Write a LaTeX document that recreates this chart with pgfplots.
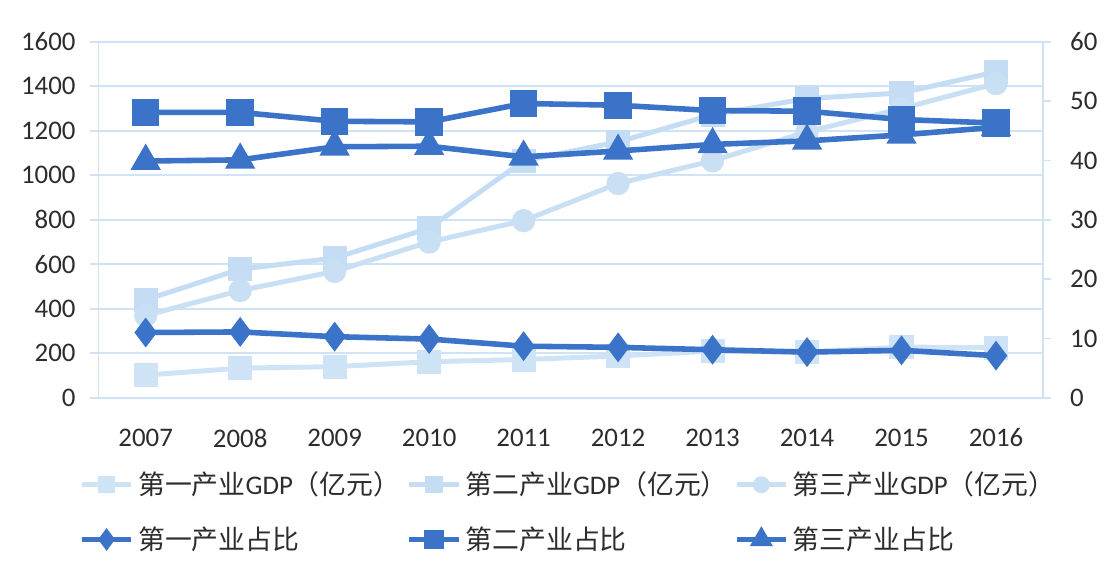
\documentclass[border=0pt]{standalone}
\usepackage{pgfplots}
\pgfplotsset{compat=1.18}
\usepackage{pgfplotstable}
\usepackage{fontspec}
\setmainfont{Carlito}
\newfontfamily\cjk{Noto Sans CJK SC}
\definecolor{dark}{RGB}{59,115,200}
\definecolor{lA}{RGB}{206,227,246}
\definecolor{lB}{RGB}{196,221,245}
\definecolor{lC}{RGB}{200,223,244}
\definecolor{gridc}{RGB}{208,227,246}
\definecolor{tickc}{RGB}{45,45,45}

\pgfplotstableread{
x gdpA gdpB gdpC
0 102 440 370
1 133 578 482
2 140 628 568
3 162 762 700
4 172 1065 796
5 188 1150 963
6 210 1272 1065
7 205 1345 1195
8 228 1370 1300
9 225 1465 1412
}\gdp

\pgfplotstableread{
x sA sB sC
0 11.0 48.1 39.9
1 11.1 48.1 40.1
2 10.3 46.6 42.3
3 9.9 46.5 42.4
4 8.7 49.6 40.6
5 8.5 49.3 41.6
6 8.1 48.4 42.7
7 7.7 48.3 43.3
8 8.0 46.9 44.3
9 7.1 46.3 45.6
}\share

\pgfplotsset{
  common/.style={
    width=475pt, height=179pt, scale only axis,
    xmin=-0.5, xmax=9.5,
    ymin=0,
    ticklabel style={font=\fontsize{13.5}{15}\selectfont, text=tickc},
    /pgf/number format/assume math mode=true,
    /pgf/number format/1000 sep={},
    axis line style={draw=gridc, line width=0.8pt},
    tick style={draw=gridc, line width=0.8pt},
    major tick length=4pt,
    tick align=outside,
    legend image code/.code={\draw[mark repeat=2,mark phase=2,mark options={scale=0.65}] plot coordinates {(0pt,0pt) (12.5pt,0pt) (25pt,0pt)};},
  },
  gA/.style={color=lA, line width=2.5pt, mark=square*, mark size=4.8pt, mark options={solid}},
  gB/.style={color=lB, line width=2.5pt, mark=square*, mark size=4.8pt, mark options={solid}},
  gC/.style={color=lC, line width=2.5pt, mark=*, mark size=4.6pt, mark options={solid}},
  dA/.style={color=dark, line width=2.8pt, mark=diamond*, mark size=5.2pt, mark options={solid}},
  dB/.style={color=dark, line width=2.8pt, mark=square*, mark size=5.5pt, mark options={solid}},
  dC/.style={color=dark, line width=2.8pt, mark=triangle*, mark size=6pt, mark options={solid}},
}

\begin{document}
\begin{tikzpicture}
\begin{axis}[common,
  ymax=1600, ytick={0,200,...,1600},
  axis x line*=bottom, axis y line*=left,
  ymajorgrids, grid style={draw=gridc, line width=0.8pt},
  xtick={0,...,9},
  xticklabels={2007,2008,2009,2010,2011,2012,2013,2014,2015,2016},
  x tick style={draw=none},
  extra x ticks={-0.5,0.5,...,9.5},
  extra x tick labels={},
  extra x tick style={tick style={draw=gridc, line width=0.8pt}, major tick length=5pt, grid=none},
  xticklabel style={yshift=-8pt},
  yticklabel style={xshift=-4pt},
]
\addplot[gA] table[x=x, y=gdpA] {\gdp};
\addplot[gB] table[x=x, y=gdpB] {\gdp};
\addplot[gC] table[x=x, y=gdpC] {\gdp};
\end{axis}
\begin{axis}[common,
  ymax=60, ytick={0,10,...,60},
  axis x line=none, axis y line*=right,
  yticklabel style={xshift=6pt},
  legend columns=3,
  legend cell align=left,
  legend style={at={(0,0)}, anchor=north west, xshift=-13pt, yshift=-33pt,
    draw=none, fill=none, font=\fontsize{13.5}{15}\selectfont, text=tickc,
    row sep=10.5pt,
    /tikz/every odd column/.append style={column sep=0pt},
    /tikz/every even column/.append style={column sep=1pt}},
]
\addlegendimage{gA}
\addlegendentry{{\cjk 第一产业}GDP{\cjk （亿元）}}
\addlegendimage{gB}
\addlegendentry{{\cjk 第二产业}GDP{\cjk （亿元）}}
\addlegendimage{gC}
\addlegendentry{{\cjk 第三产业}GDP{\cjk （亿元）}}
\addplot[dA] table[x=x, y=sA] {\share};
\addlegendentry{{\cjk 第一产业占比}}
\addplot[dB] table[x=x, y=sB] {\share};
\addlegendentry{{\cjk 第二产业占比}}
\addplot[dC] table[x=x, y=sC] {\share};
\addlegendentry{{\cjk 第三产业占比}}
\end{axis}
\path[use as bounding box] (-49.5pt,-85.5pt) rectangle (502.5pt,200pt);
\end{tikzpicture}
\end{document}
